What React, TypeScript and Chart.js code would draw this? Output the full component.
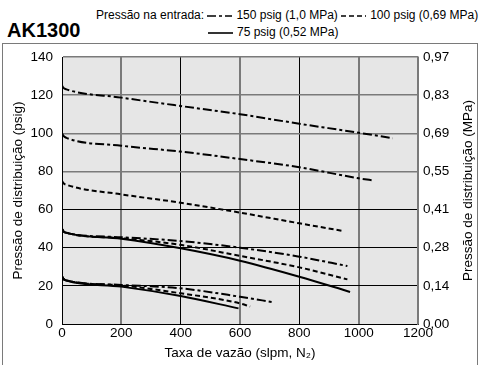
import React, { useEffect, useRef } from "react";
import { Chart, registerables } from "chart.js";

Chart.register(...registerables);

const TITLE = "AK1300";
const LEGEND_PREFIX = "Pressão na entrada:";
const INLET_LABELS = ["150 psig (1,0 MPa)", "100 psig (0,69 MPa)", "75 psig (0,52 MPa)"];
const X_TITLE = "Taxa de vazão (slpm, N₂)";
const Y_TITLE = "Pressão de distribuição (psig)";
const Y2_TITLE = "Pressão de distribuição (MPa)";
const X_TICKS = [0, 200, 400, 600, 800, 1000, 1200];
const MPA_TICKS = ["0,00", "0,14", "0,28", "0,41", "0,55", "0,69", "0,83", "0,97"];

// curves: flow (slpm) vs outlet pressure (psig)
const x150_125 = [0, 5, 15, 200, 400, 600, 800, 1000, 1115];
const y150_125 = [125, 123.8, 123, 118.7, 114.3, 110, 105, 100.3, 97.4];
const x150_100 = [0, 5, 15, 200, 400, 600, 800, 1000, 1053];
const y150_100 = [100, 98.6, 97.6, 93.5, 90.4, 86.5, 82.2, 76.4, 75.2];
const x100_75 = [0, 5, 15, 200, 400, 600, 800, 943];
const y100_75 = [75, 73.8, 73, 68, 63.6, 58.4, 52.8, 48.9];
const x150_50 = [0, 5, 15, 200, 400, 600, 800, 962];
const y150_50 = [50, 48.6, 47.8, 45.5, 43.5, 40, 35.3, 30.4];
const x100_50 = [0, 5, 15, 200, 400, 600, 800, 962];
const y100_50 = [50, 48.6, 47.8, 45, 41.5, 35.7, 29.7, 23.4];
const x75_50 = [0, 5, 15, 200, 400, 600, 800, 971];
const y75_50 = [50, 48.6, 47.8, 44.7, 39.7, 33.2, 24.8, 16.8];
const x150_25 = [0, 5, 15, 200, 400, 600, 713];
const y150_25 = [25, 23.6, 22.8, 20.5, 18.7, 14.3, 11.4];
const x100_25 = [0, 5, 15, 200, 400, 600, 634];
const y100_25 = [25, 23.6, 22.8, 20.2, 16.1, 10.8, 9.1];
const x75_25 = [0, 5, 15, 200, 400, 595];
const y75_25 = [25, 23.6, 22.8, 19.6, 14.7, 8.2];

const DASH_150 = [9, 3, 3, 3];
const DASH_100 = [5, 3];
const DASH_75: number[] = [];

const FONT = "'Liberation Sans', Arial, Helvetica, sans-serif";

function pts(xs: number[], ys: number[]) {
  return xs.map((x, i) => ({ x, y: ys[i] }));
}

function ds(xs: number[], ys: number[], dash: number[]) {
  return {
    data: pts(xs, ys),
    borderColor: "#000",
    borderWidth: 2,
    borderDash: dash,
    pointRadius: 0,
    fill: false,
    cubicInterpolationMode: "monotone" as const,
  };
}

const bgPlugin = {
  id: "plotBg",
  beforeDraw(chart: any) {
    const { ctx, chartArea } = chart;
    ctx.save();
    ctx.fillStyle = "#e6e6e6";
    ctx.fillRect(chartArea.left, chartArea.top, chartArea.right - chartArea.left, chartArea.bottom - chartArea.top);
    ctx.restore();
  },
};

// x tick labels (plain numbers) and the right-hand title reading bottom-to-top
const textPlugin = {
  id: "extraText",
  afterDraw(chart: any) {
    const { ctx, chartArea } = chart;
    const sx = chart.scales.x;
    ctx.save();
    ctx.font = "13.5px " + FONT;
    ctx.fillStyle = "#000";
    ctx.textAlign = "center";
    ctx.textBaseline = "top";
    for (const v of X_TICKS) {
      ctx.fillText(String(v), sx.getPixelForValue(v), chartArea.bottom + 3);
    }
    ctx.translate(468, (chartArea.top + chartArea.bottom) / 2);
    ctx.rotate(-Math.PI / 2);
    ctx.textBaseline = "middle";
    ctx.fillText(Y2_TITLE, 0, 0);
    ctx.restore();
  },
};

function Sample({ dash }: { dash: number[] }) {
  return (
    <svg width={25} height={8} style={{ display: "inline-block", verticalAlign: "middle", marginRight: 4 }}>
      <line x1={0} y1={4} x2={25} y2={4} stroke="#000" strokeWidth={1.6} strokeDasharray={dash.length ? dash.join(" ") : undefined} />
    </svg>
  );
}

export default function App() {
  const ref = useRef<HTMLCanvasElement>(null);

  useEffect(() => {
    if (!ref.current) return;
    const chart = new Chart(ref.current, {
      type: "line",
      data: {
        datasets: [
          ds(x150_125, y150_125, DASH_150),
          ds(x150_100, y150_100, DASH_150),
          ds(x100_75, y100_75, DASH_100),
          ds(x150_50, y150_50, DASH_150),
          ds(x100_50, y100_50, DASH_100),
          ds(x75_50, y75_50, DASH_75),
          ds(x150_25, y150_25, DASH_150),
          ds(x100_25, y100_25, DASH_100),
          ds(x75_25, y75_25, DASH_75),
        ] as any,
      },
      options: {
        animation: false,
        responsive: false,
        maintainAspectRatio: false,
        layout: { padding: { top: 57, left: 0, right: 0, bottom: 0 } },
        plugins: { legend: { display: false }, tooltip: { enabled: false } },
        scales: {
          x: {
            type: "linear",
            min: 0,
            max: 1200,
            afterBuildTicks: (s: any) => { s.ticks = X_TICKS.map((v) => ({ value: v })); },
            ticks: { display: false },
            grid: {
              drawTicks: false,
              color: (c: any) => (c.tick && ((c.tick.value / 200) % 2 === 1 || c.tick.value === 1200) ? "#7a7a7a" : "#000"),
              lineWidth: (c: any) => (c.tick && ((c.tick.value / 200) % 2 === 1 || c.tick.value === 1200) ? 2 : 1),
            },
            border: { color: "#000", width: 1 },
            title: { display: true, text: X_TITLE, color: "#000", font: { family: FONT, size: 13.5 }, padding: { top: 0, bottom: 4 } },
            afterFit: (s: any) => { s.height = 41; },
          },
          y: {
            type: "linear",
            min: 0,
            max: 140,
            ticks: { stepSize: 20, color: "#000", font: { family: FONT, size: 13.5 }, padding: 9 },
            grid: {
              drawTicks: false,
              color: (c: any) => (c.tick && c.tick.value >= 80 ? "#7a7a7a" : "#000"),
              lineWidth: (c: any) => (c.tick && c.tick.value >= 80 ? 1.5 : 1),
            },
            border: { color: "#000", width: 1 },
            title: { display: true, text: Y_TITLE, color: "#000", font: { family: FONT, size: 13.5 }, padding: { top: 10, bottom: 0 } },
            afterFit: (s: any) => { s.width = 62; },
          },
          y2: {
            type: "linear",
            position: "right",
            min: 0,
            max: 140,
            ticks: {
              stepSize: 20,
              color: "#000",
              font: { family: FONT, size: 13.5 },
              padding: 5,
              callback: (v: any) => MPA_TICKS[Math.round(Number(v) / 20)] ?? "",
            },
            grid: { drawOnChartArea: false, drawTicks: false },
            border: { color: "#7a7a7a", width: 1.5 },
            title: { display: false },
            afterFit: (s: any) => { s.width = 62; },
          },
        },
      } as any,
      plugins: [bgPlugin, textPlugin],
    });
    return () => chart.destroy();
  }, []);

  return (
    <div style={{ position: "absolute", left: 0, top: 0, width: 480, height: 365, background: "#fff", overflow: "hidden", fontFamily: FONT, color: "#000" }}>
      <div style={{ position: "absolute", left: 2, top: 43, width: 474, height: 330, border: "1.5px solid #7a7a7a" }} />
      <div style={{ position: "absolute", left: 7, top: 19, fontSize: 20, fontWeight: "bold", lineHeight: "22px", whiteSpace: "nowrap" }}>{TITLE}</div>
      <div style={{ position: "absolute", left: 96, top: 7, fontSize: 12, lineHeight: "16px", whiteSpace: "nowrap" }}>
        {LEGEND_PREFIX} <Sample dash={DASH_150} />{INLET_LABELS[0]} <Sample dash={DASH_100} />{INLET_LABELS[1]}
      </div>
      <div style={{ position: "absolute", left: 208, top: 24, fontSize: 12, lineHeight: "16px", whiteSpace: "nowrap" }}>
        <Sample dash={DASH_75} />{INLET_LABELS[2]}
      </div>
      <canvas ref={ref} width={480} height={365} style={{ position: "absolute", left: 0, top: 0 }} />
    </div>
  );
}
